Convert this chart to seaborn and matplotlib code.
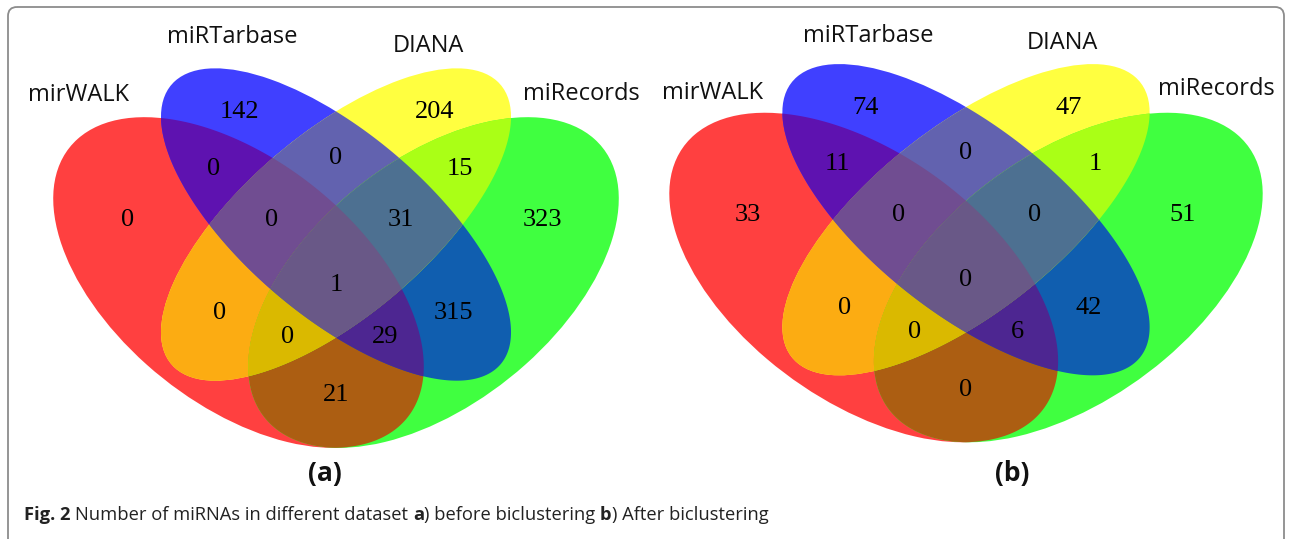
import numpy as np
import pandas as pd
import matplotlib
matplotlib.use("Agg")
import matplotlib.pyplot as plt
from matplotlib.patches import Ellipse, FancyBboxPatch
import seaborn as sns

# ---------------- data ----------------
set_names = ["mirWALK", "miRTarbase", "DIANA", "miRecords"]
region_keys = ["A", "B", "C", "D", "AB", "AC", "AD", "BC", "BD", "CD",
               "ABC", "ABD", "ACD", "BCD", "ABCD"]
before_counts = [0, 142, 204, 323, 0, 0, 21, 0, 315, 15, 0, 29, 0, 31, 1]
after_counts = [33, 74, 47, 51, 11, 0, 0, 0, 42, 1, 0, 6, 0, 0, 0]
panel_tags = ["(a)", "(b)"]
caption_parts = [("Fig. 2", "bold"), (" Number of miRNAs in different dataset ", "normal"),
                 ("a", "bold"), (") before biclustering ", "normal"),
                 ("b", "bold"), (") After biclustering", "normal")]

# ---------------- style ----------------
sns.set_theme(style="white")
plt.rcParams["font.family"] = ["Open Sans", "DejaVu Sans"]

W, H = 1292, 539
fig = plt.figure(figsize=(W / 100, H / 100), dpi=100)
fig.patch.set_facecolor("white")

bg = fig.add_axes([0, 0, 1, 1])
bg.set_xlim(0, W)
bg.set_ylim(H, 0)
bg.axis("off")
bg.add_patch(FancyBboxPatch((8, 7), W - 16, 620, boxstyle="round,pad=0,rounding_size=9",
                            fill=False, edgecolor="#8c8c8c", linewidth=1.3, clip_on=False))

# ellipse layout in unit square (VennDiagram-style 4-set layout)
ell_spec = {  # key: (cx, cy, semi-major, semi-minor, angle)
    "A": (0.35, 0.47, 0.35, 0.20, -45),
    "B": (0.50, 0.57, 0.35, 0.15, -45),
    "C": (0.50, 0.57, 0.35, 0.15, 45),
    "D": (0.65, 0.47, 0.35, 0.20, 45),
}
region_color = {
    "A": "#ff4040", "B": "#4040ff", "C": "#ffff40", "D": "#40ff40",
    "AB": "#5e12b0", "AC": "#fcac12", "AD": "#ac5e12", "BC": "#6262af",
    "BD": "#105eaf", "CD": "#aaff16", "ABC": "#704d91", "ABD": "#4d2691",
    "ACD": "#dab900", "BCD": "#4d7091", "ABCD": "#695887",
}
region_pos = {
    "A": (0.180, 0.578), "B": (0.352, 0.764), "C": (0.651, 0.764), "D": (0.818, 0.578),
    "AB": (0.311, 0.666), "BC": (0.500, 0.685), "CD": (0.690, 0.666),
    "ABC": (0.4015, 0.578), "BCD": (0.600, 0.578), "ABCD": (0.500, 0.466),
    "AC": (0.3215, 0.417), "BD": (0.680, 0.417), "ACD": (0.425, 0.376),
    "ABD": (0.575, 0.376), "AD": (0.500, 0.276),
}
panels = [
    dict(counts=before_counts, cx=336, cy=282.5, sx=650, sy=580, x0=0, x1=646,
         labpos=[(0.1046, 0.793), (0.340, 0.893), (0.6415, 0.878), (0.877, 0.795)],
         tag=(325, 474)),
    dict(counts=after_counts, cx=966, cy=277.5, sx=682, sy=578, x0=646, x1=W,
         labpos=[(0.129, 0.789), (0.356, 0.888), (0.642, 0.876), (0.867, 0.796)],
         tag=(1012, 473)),
]


def intersection_outline(keys, origin, n=2400):
    """Boundary of the intersection of convex ellipses, traced by rays from an inner point."""
    th = np.linspace(0, 2 * np.pi, n, endpoint=False)
    d = np.stack([np.cos(th), np.sin(th)], axis=1)
    p = np.asarray(origin, float)
    r = np.full(n, np.inf)
    for k in keys:
        cx, cy, a, b, ang = ell_spec[k]
        phi = np.deg2rad(ang)
        c, s = np.cos(phi), np.sin(phi)
        q = p - np.array([cx, cy])
        P = np.array([(c * q[0] + s * q[1]) / a, (-s * q[0] + c * q[1]) / b])
        D = np.stack([(c * d[:, 0] + s * d[:, 1]) / a, (-s * d[:, 0] + c * d[:, 1]) / b], axis=1)
        A2 = (D ** 2).sum(1)
        B2 = D @ P
        C2 = P @ P - 1.0
        t = (-B2 + np.sqrt(B2 ** 2 - A2 * C2)) / A2
        r = np.minimum(r, t)
    return p[0] + r * d[:, 0], p[1] + r * d[:, 1]


for p, tag in zip(panels, panel_tags):
    ax = fig.add_axes([p["x0"] / W, 0, (p["x1"] - p["x0"]) / W, 1])
    ax.patch.set_alpha(0)
    u0 = 0.5 + (p["x0"] - p["cx"]) / p["sx"]
    u1 = 0.5 + (p["x1"] - p["cx"]) / p["sx"]
    vt = 0.47 + p["cy"] / p["sy"]
    vb = 0.47 + (p["cy"] - H) / p["sy"]
    ax.set_xlim(u0, u1)
    ax.set_ylim(vb, vt)
    ax.axis("off")
    # paint from single sets up to the four-way intersection
    for key in sorted(region_keys, key=len):
        if len(key) == 1:
            cx, cy, a, b, ang = ell_spec[key]
            ax.add_patch(Ellipse((cx, cy), 2 * a, 2 * b, angle=ang,
                                 facecolor=region_color[key], edgecolor="none", linewidth=0))
        else:
            xs, ys = intersection_outline(list(key), region_pos[key])
            ax.fill(xs, ys, color=region_color[key], linewidth=0)
    df = pd.DataFrame({"region": region_keys, "count": p["counts"]})
    for _, row in df.iterrows():
        x, y = region_pos[row["region"]]
        ax.text(x, y, str(row["count"]), ha="center", va="center", fontsize=19,
                family="Liberation Serif", color="black")
    for name, (x, y) in zip(set_names, p["labpos"]):
        ax.text(x, y, name, ha="center", va="center", fontsize=17, color="#111111")
    bg.text(p["tag"][0], p["tag"][1], tag, ha="center", va="center", fontsize=19,
            fontweight="bold", color="#111111")

# caption with mixed weights
fig.canvas.draw()
renderer = fig.canvas.get_renderer()
CAP_FS = 13.2


def text_w(s, weight):
    t = bg.text(0, 0, s, fontsize=CAP_FS, fontweight=weight)
    w = t.get_window_extent(renderer).width
    t.remove()
    return w


space_w = text_w("x x", "normal") - text_w("xx", "normal")
xpos = 24
for s, weight in caption_parts:
    lead = len(s) - len(s.lstrip(" "))
    trail = len(s) - len(s.rstrip(" "))
    xpos += lead * space_w
    core = s.strip(" ")
    bg.text(xpos, 515, core, fontsize=CAP_FS, fontweight=weight, ha="left", va="center",
            color="#222222")
    xpos += text_w(core, weight) + trail * space_w

fig.savefig("out.png", dpi=100)
